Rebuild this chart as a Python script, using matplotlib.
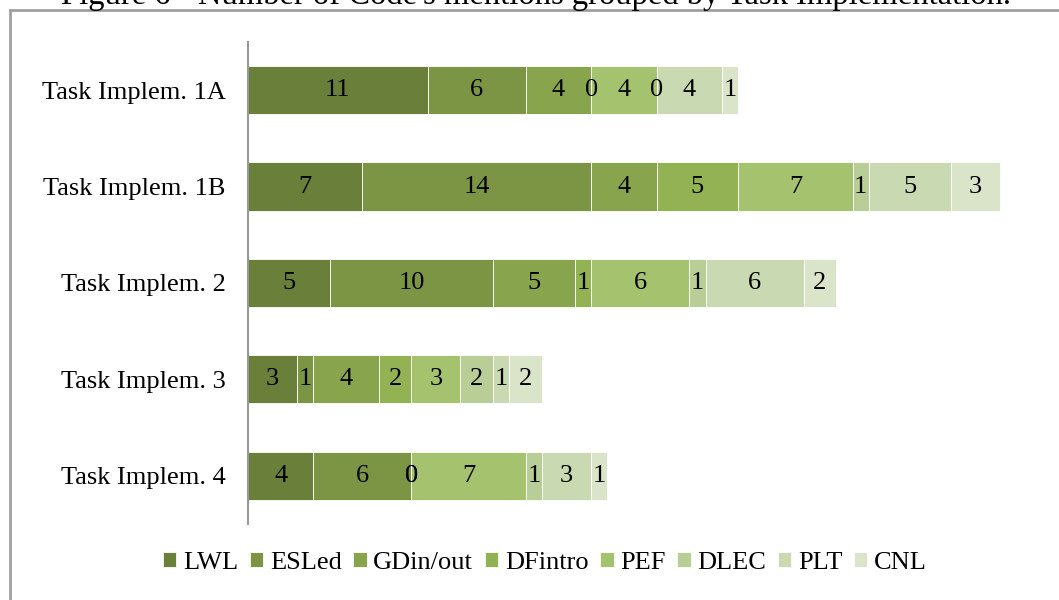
import matplotlib.pyplot as plt
from matplotlib.patches import Rectangle
import numpy as np

plt.rcParams['font.family'] = ['Liberation Serif', 'DejaVu Serif']

tasks = ["Task Implem. 1A", "Task Implem. 1B", "Task Implem. 2",
         "Task Implem. 3", "Task Implem. 4"]
codes = ["LWL", "ESLed", "GDin/out", "DFintro", "PEF", "DLEC", "PLT", "CNL"]

LWL = [11, 7, 5, 3, 4]
ESLed = [6, 14, 10, 1, 6]
GDin_out = [4, 4, 5, 4, 0]
DFintro = [0, 5, 1, 2, 0]
PEF = [4, 7, 6, 3, 7]
DLEC = [0, 1, 1, 2, 1]
PLT = [4, 5, 6, 1, 3]
CNL = [1, 3, 2, 2, 1]

series = [LWL, ESLed, GDin_out, DFintro, PEF, DLEC, PLT, CNL]
colors = ["#6a7f3a", "#7b9544", "#88a54e", "#93b254",
          "#a5c36f", "#b8ce96", "#c9d9b1", "#dae4c9"]

fig = plt.figure(figsize=(10.59, 6), dpi=100)
ax = fig.add_axes([248 / 1059, 1 - 524 / 600, 817 / 1059, 482 / 600])

y = np.arange(len(tasks))
left = np.zeros(len(tasks))
for name, vals, c in zip(codes, series, colors):
    bars = ax.barh(y, vals, left=left, height=0.5, color=c,
                   edgecolor="white", linewidth=0.6, label=name)
    ax.bar_label(bars, labels=[str(v) for v in vals], label_type="center",
                 fontsize=19, color="black")
    left += np.array(vals)

ax.set_xlim(0, 50)
ax.set_ylim(len(tasks) - 0.5, -0.5)
ax.set_yticks(y)
ax.set_yticklabels(tasks, fontsize=19)
ax.tick_params(axis="y", length=0, pad=16)
ax.set_xticks([])
for s in ["top", "right", "bottom"]:
    ax.spines[s].set_visible(False)
ax.spines["left"].set_color("#999999")
ax.spines["left"].set_linewidth(1.5)

fig.legend(loc="center", bbox_to_anchor=(545 / 1059, 1 - 563 / 600),
           ncol=8, frameon=False, fontsize=19, handlelength=0.5,
           handleheight=0.5, handletextpad=0.25, columnspacing=0.45)

# caption sits above the chart frame, mostly outside the canvas
fig.text(536 / 1059, 1 - 4 / 600,
         "Figure 6 - Number of Code's mentions grouped by Task Implementation.",
         ha="center", va="baseline", fontsize=23.5)

fig.patches.append(Rectangle((10 / 1059, -0.1), 1.2, 1.1 - 10 / 600,
                             transform=fig.transFigure, fill=False,
                             edgecolor="#a0a0a0", linewidth=2))

plt.savefig("out.png", dpi=100)
